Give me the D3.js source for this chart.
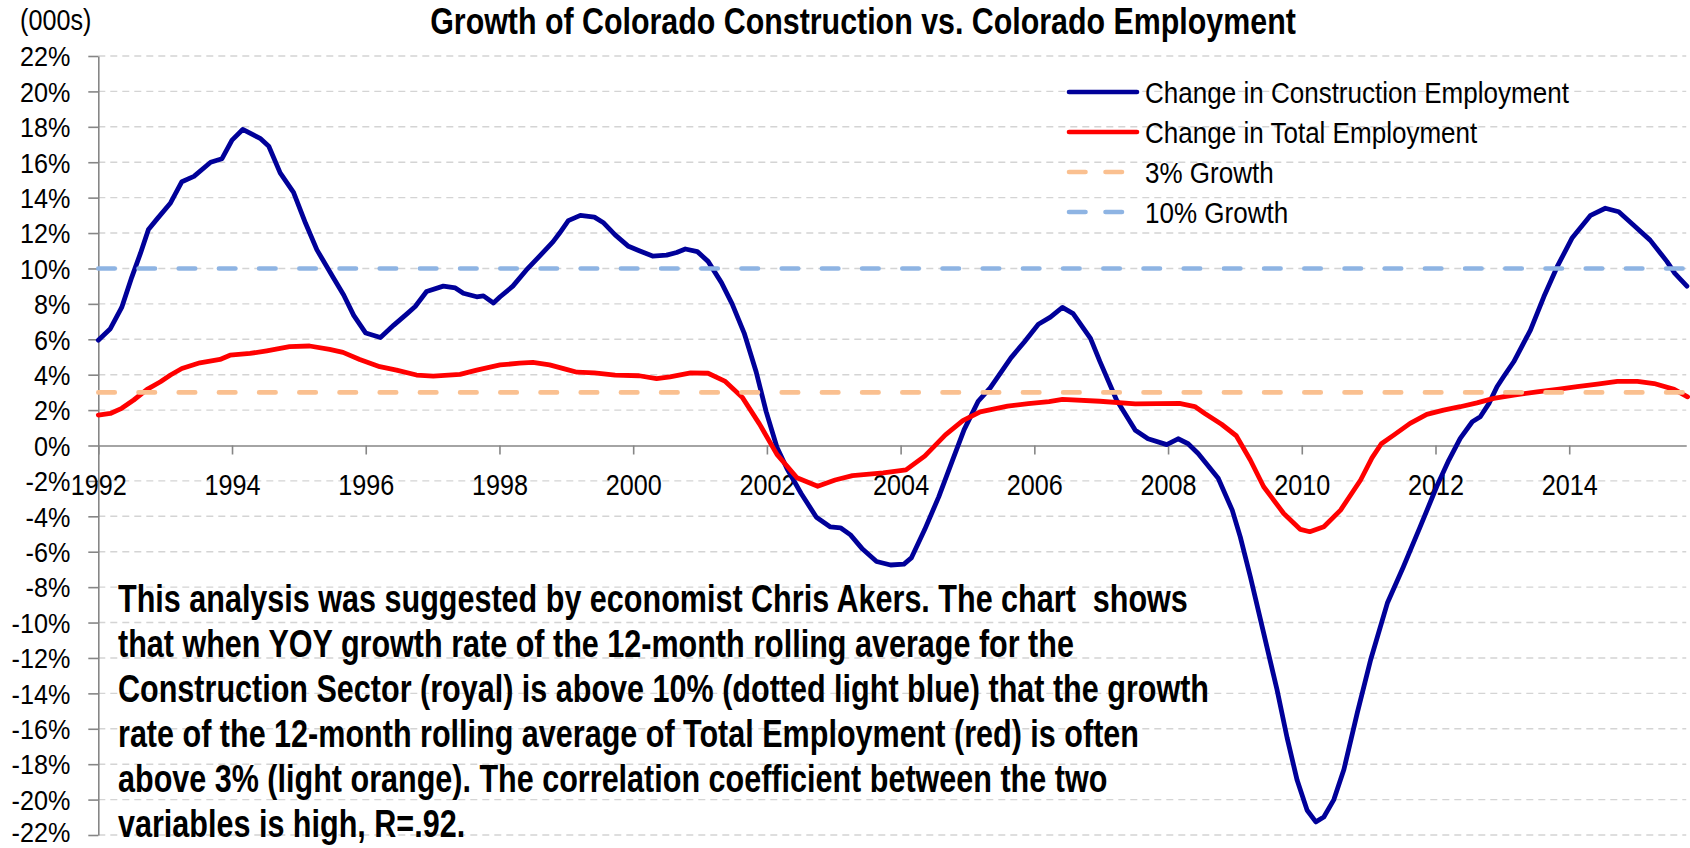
<!DOCTYPE html>
<html><head><meta charset="utf-8">
<script src="https://cdn.jsdelivr.net/npm/d3@7"></script>
<style>
html,body{margin:0;padding:0;background:#fff;}
svg{display:block;}
text{font-family:"Liberation Sans", Arial, sans-serif; fill:#000;}
</style></head><body>
<svg id="chart" width="1690" height="848"></svg>
<script>
// ---------- data ----------
const titleText = "Growth of Colorado Construction vs. Colorado Employment";
const unitLabel = "(000s)";
const seriesNames = ["Change in Construction Employment", "Change in Total Employment", "3% Growth", "10% Growth"];
const seriesColors = ["#000099", "#FF0000", "#FAC090", "#8EB4E3"];

const constructionYears = [1992.00,1992.18,1992.35,1992.50,1992.63,1992.75,1992.88,1993.08,1993.25,1993.43,1993.68,1993.85,1994.00,1994.16,1994.42,1994.55,1994.72,1994.92,1995.10,1995.27,1995.52,1995.67,1995.82,1996.00,1996.22,1996.42,1996.62,1996.74,1996.91,1997.16,1997.34,1997.46,1997.66,1997.76,1997.91,1998.01,1998.20,1998.40,1998.60,1998.80,1998.90,1999.03,1999.21,1999.42,1999.55,1999.73,1999.93,2000.09,2000.29,2000.50,2000.65,2000.78,2000.96,2001.12,2001.32,2001.48,2001.66,2001.84,2001.99,2002.15,2002.30,2002.51,2002.74,2002.95,2003.10,2003.25,2003.43,2003.64,2003.85,2004.05,2004.16,2004.36,2004.57,2004.77,2004.95,2005.16,2005.34,2005.65,2005.85,2006.06,2006.24,2006.42,2006.58,2006.84,2006.98,2007.23,2007.51,2007.70,2007.98,2008.15,2008.30,2008.45,2008.75,2008.96,2009.08,2009.23,2009.43,2009.63,2009.78,2009.93,2010.08,2010.21,2010.33,2010.48,2010.63,2010.83,2011.03,2011.28,2011.52,2011.77,2012.02,2012.20,2012.37,2012.55,2012.67,2012.80,2012.92,2013.02,2013.17,2013.42,2013.62,2013.82,2014.04,2014.32,2014.54,2014.74,2014.96,2015.21,2015.46,2015.58,2015.76];
const constructionChange = [5.95,6.6,7.8,9.5,10.85,12.2,12.8,13.7,14.9,15.2,16.0,16.2,17.25,17.85,17.35,16.9,15.4,14.3,12.55,11.05,9.45,8.5,7.35,6.35,6.1,6.8,7.45,7.85,8.7,9.0,8.9,8.6,8.4,8.45,8.05,8.4,9.0,9.9,10.7,11.5,12.0,12.7,13.0,12.9,12.6,11.9,11.25,11.0,10.7,10.75,10.9,11.1,10.95,10.4,9.2,8.0,6.35,4.15,1.9,-0.1,-1.3,-2.7,-4.05,-4.6,-4.65,-5.05,-5.85,-6.55,-6.75,-6.7,-6.35,-4.75,-2.9,-0.9,0.9,2.5,3.25,4.95,5.85,6.85,7.25,7.8,7.45,6.05,4.75,2.57,0.86,0.38,0.05,0.38,0.1,-0.45,-1.85,-3.65,-5.16,-7.4,-10.6,-13.8,-16.5,-18.9,-20.6,-21.26,-20.98,-20.0,-18.3,-15.1,-12.1,-8.9,-6.85,-4.6,-2.3,-0.82,0.4,1.34,1.62,2.38,3.32,3.9,4.73,6.52,8.4,10.1,11.7,13.0,13.4,13.2,12.45,11.6,10.4,9.72,9.0];

const totalYears = [1992.00,1992.18,1992.35,1992.53,1992.73,1992.93,1993.08,1993.25,1993.52,1993.82,1993.97,1994.27,1994.52,1994.86,1995.16,1995.46,1995.66,1995.91,1996.21,1996.46,1996.76,1997.01,1997.41,1997.66,1998.01,1998.30,1998.50,1998.75,1999.00,1999.16,1999.42,1999.73,2000.09,2000.35,2000.55,2000.86,2001.12,2001.37,2001.63,2001.89,2002.15,2002.45,2002.76,2003.02,2003.28,2003.74,2004.08,2004.36,2004.67,2004.93,2005.19,2005.60,2005.91,2006.22,2006.42,2006.98,2007.51,2008.17,2008.40,2008.55,2008.80,2009.02,2009.23,2009.43,2009.73,2009.98,2010.12,2010.33,2010.58,2010.88,2011.05,2011.19,2011.38,2011.62,2011.87,2012.12,2012.37,2012.62,2012.87,2013.17,2013.52,2013.82,2014.12,2014.42,2014.72,2015.02,2015.27,2015.57,2015.77];
const totalChange = [1.72,1.81,2.1,2.57,3.17,3.6,3.98,4.35,4.67,4.86,5.1,5.2,5.35,5.58,5.62,5.43,5.26,4.86,4.45,4.26,3.98,3.92,4.02,4.26,4.55,4.65,4.7,4.55,4.3,4.14,4.1,3.98,3.94,3.78,3.88,4.1,4.08,3.64,2.73,1.21,-0.5,-1.82,-2.3,-1.95,-1.7,-1.55,-1.38,-0.6,0.6,1.4,1.9,2.22,2.36,2.48,2.6,2.5,2.35,2.38,2.2,1.81,1.2,0.55,-0.82,-2.33,-3.84,-4.74,-4.87,-4.59,-3.65,-1.95,-0.7,0.1,0.6,1.25,1.76,2.0,2.19,2.41,2.66,2.85,3.03,3.17,3.32,3.47,3.62,3.62,3.5,3.17,2.75];

const growthLevels = [3, 10];
const yTicks = [-22,-20,-18,-16,-14,-12,-10,-8,-6,-4,-2,0,2,4,6,8,10,12,14,16,18,20,22];
const xTicks = [1992,1994,1996,1998,2000,2002,2004,2006,2008,2010,2012,2014];
const xStart = 1992, xEnd = 2015.75;

const noteLines = [
  "This analysis was suggested by economist Chris Akers. The chart  shows",
  "that when YOY growth rate of the 12-month rolling average for the",
  "Construction Sector (royal) is above 10% (dotted light blue) that the growth",
  "rate of the 12-month rolling average of Total Employment (red) is often",
  "above 3% (light orange). The correlation coefficient between the two",
  "variables is high, R=.92."
];

// ---------- layout ----------
const svg = d3.select("#chart");
const x0 = 98.3, pxPerYear = 66.86;
const x = d3.scaleLinear().domain([xStart, xEnd]).range([x0, x0 + (xEnd - xStart) * pxPerYear]);
const y = d3.scaleLinear().domain([-22, 22]).range([835, 56]);
const xR = x.range()[1];

const NARROW = 0.84;
function squeezeAt(sel, c) {
  sel.each(function () {
    const t = d3.select(this);
    const xv = +t.attr("x") || 0;
    t.attr("x", xv / c).attr("transform", `scale(${c},1)`);
  });
}

// gridlines
svg.append("g").selectAll("line").data(yTicks.filter(d => d !== 0)).join("line")
  .attr("x1", x0).attr("x2", xR)
  .attr("y1", d => y(d)).attr("y2", d => y(d))
  .attr("stroke", "#D4D4D4").attr("stroke-width", 1.4).attr("stroke-dasharray", "7,5");

// y axis
const yAxis = svg.append("g").attr("transform", `translate(${x0},0)`)
  .call(d3.axisLeft(y).tickValues(yTicks).tickFormat(d => d + "%").tickSize(10).tickPadding(18).tickSizeOuter(0));
yAxis.select(".domain").attr("stroke", "#868686").attr("stroke-width", 1.6);
yAxis.selectAll(".tick line").attr("stroke", "#868686").attr("stroke-width", 1.6);
yAxis.selectAll(".tick text").attr("font-size", 28).attr("font-family", "Liberation Sans, Arial, sans-serif").attr("fill", "#000")
  .attr("dy", d => d === -22 ? "0.24em" : "0.35em");
squeezeAt(yAxis.selectAll(".tick text"), 0.9);

// x axis at 0%
const xAxis = svg.append("g").attr("transform", `translate(0,${y(0)})`)
  .call(d3.axisBottom(x).tickValues(xTicks).tickFormat(d3.format("d")).tickSize(9).tickPadding(19).tickSizeOuter(0));
xAxis.select(".domain").attr("stroke", "#868686").attr("stroke-width", 1.6);
xAxis.selectAll(".tick line").attr("stroke", "#868686").attr("stroke-width", 1.6);
xAxis.selectAll(".tick text").attr("font-size", 30).attr("font-family", "Liberation Sans, Arial, sans-serif").attr("fill", "#000");
squeezeAt(xAxis.selectAll(".tick text"), NARROW);

// series
const line = d3.line().x(d => x(d[0])).y(d => y(d[1]));
const constructionData = constructionYears.map((t, i) => [t, constructionChange[i]]);
const totalData = totalYears.map((t, i) => [t, totalChange[i]]);
svg.append("path").datum(constructionData).attr("d", line)
  .attr("fill", "none").attr("stroke", seriesColors[0]).attr("stroke-width", 4.8)
  .attr("stroke-linejoin", "round").attr("stroke-linecap", "round");
svg.append("path").datum(totalData).attr("d", line)
  .attr("fill", "none").attr("stroke", seriesColors[1]).attr("stroke-width", 4.8)
  .attr("stroke-linejoin", "round").attr("stroke-linecap", "round");

// growth reference lines
svg.append("g").selectAll("path").data(growthLevels).join("path")
  .attr("d", g => line([[xStart, g], [xEnd, g]]))
  .attr("fill", "none").attr("stroke", (g, i) => seriesColors[2 + i]).attr("stroke-width", 4.6)
  .attr("stroke-linecap", "round").attr("stroke-dasharray", "16.5,23.7");

// title
const title = svg.append("text").attr("font-size", 36).attr("font-weight", "bold").attr("text-anchor", "middle").text(titleText);
{
  const len = title.node().getComputedTextLength();
  const c = 866 / len;
  title.attr("transform", `translate(863,34) scale(${c},1)`);
}

// unit label
svg.append("text").attr("font-size", 30).attr("transform", `translate(20,30) scale(${NARROW},1)`).text(unitLabel);

// legend
const legRows = [92, 132, 172, 212];
const leg = svg.append("g");
seriesNames.forEach((name, i) => {
  const ry = legRows[i];
  leg.append("line").attr("x1", 1069).attr("x2", 1137).attr("y1", ry).attr("y2", ry)
    .attr("stroke", seriesColors[i]).attr("stroke-width", 4.6).attr("stroke-linecap", "round")
    .attr("stroke-dasharray", i >= 2 ? "16.5,20" : null);
});
const legTexts = leg.selectAll("text.leg").data(seriesNames).join("text").attr("class", "leg")
  .attr("font-size", 30).text(d => d);
{
  const len = legTexts.nodes()[0].getComputedTextLength();
  const c = 424 / len;
  legTexts.attr("transform", (d, i) => `translate(1145,${legRows[i] + 10.5}) scale(${c},1)`);
}

// note
const noteTexts = svg.append("g").selectAll("text").data(noteLines).join("text")
  .attr("font-size", 38).attr("font-weight", "bold").style("white-space", "pre").attr("xml:space", "preserve")
  .text(d => d);
{
  const len = noteTexts.nodes()[0].getComputedTextLength();
  const c = 1070 / len;
  noteTexts.attr("transform", (d, i) => `translate(118,${612 + i * 45}) scale(${c},1)`);
}
</script>
</body></html>
